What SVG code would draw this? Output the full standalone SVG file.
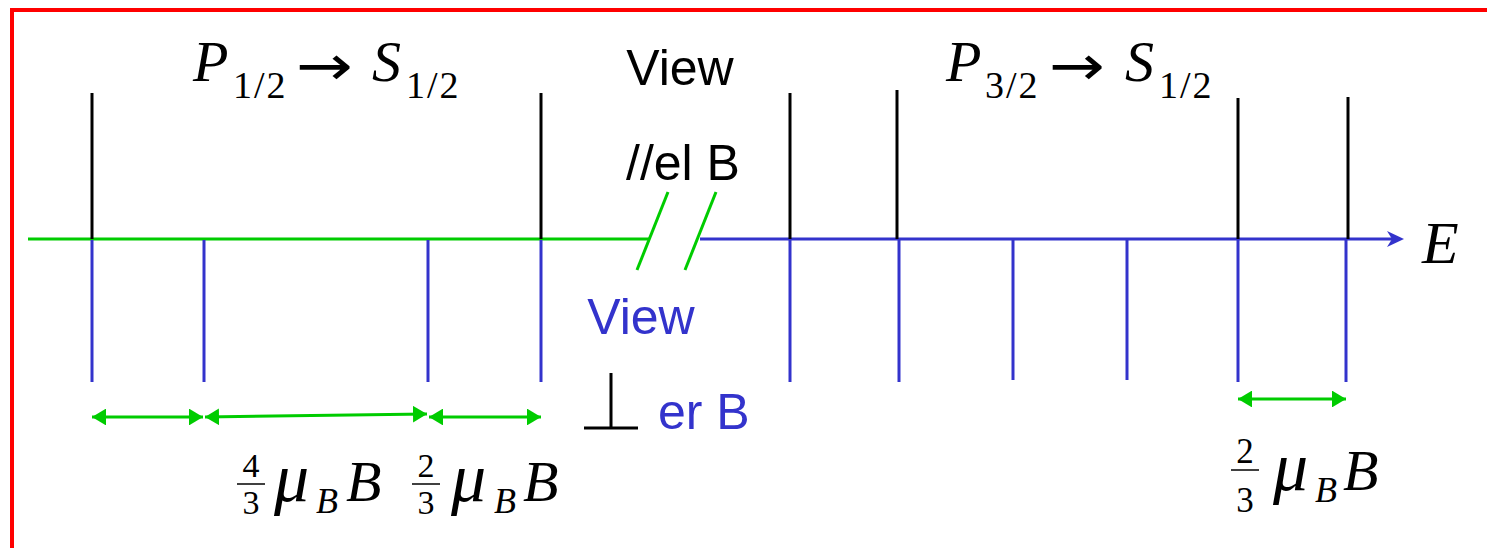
<svg xmlns="http://www.w3.org/2000/svg" width="1487" height="548" viewBox="0 0 1487 548">
<defs>
<style>
.bk{stroke:#000;stroke-width:3;fill:none}
.bl{stroke:#3333CC;stroke-width:3;fill:none}
.gr{stroke:#00CC00;stroke-width:3;fill:none}
.ti{font-family:"Liberation Serif",serif;font-style:italic;fill:#000}
.tr{font-family:"Liberation Serif",serif;fill:#000}
.ar{font-family:"DejaVu Sans",sans-serif;fill:#000}
.sa{font-family:"Liberation Sans",Arial,sans-serif;font-size:50px}
.fb{stroke:#000;stroke-width:1.5}
</style>
<marker id="ga" viewBox="0 0 10 12" refX="10" refY="6" markerWidth="4.8" markerHeight="5.6" orient="auto-start-reverse" markerUnits="strokeWidth">
<path d="M0,0 L10,6 L0,12 Z" fill="#00CC00"/>
</marker>
</defs>
<rect width="1487" height="548" fill="#fff"/>
<g id="frame">
<path d="M12,548 V10 H1487" stroke="#FF0000" stroke-width="4" fill="none"/>
</g>
<g id="connectors">
<line class="gr" x1="28" y1="239" x2="649" y2="239" stroke-width="3.5"/>
<line class="bl" x1="700" y1="239" x2="1395" y2="239" stroke-width="3.5"/>
<path d="M1404,239 L1387,231 L1392,239 L1387,247 Z" fill="#3333CC"/>
<line class="gr" x1="637" y1="270" x2="668" y2="192"/>
<line class="gr" x1="685" y1="270" x2="716" y2="192"/>
<g id="black-lines">
<line class="bk" x1="92" y1="93" x2="92" y2="239"/>
<line class="bk" x1="541" y1="93" x2="541" y2="239"/>
<line class="bk" x1="790" y1="93" x2="790" y2="239"/>
<line class="bk" x1="897" y1="90" x2="897" y2="239"/>
<line class="bk" x1="1238" y1="98" x2="1238" y2="239"/>
<line class="bk" x1="1348" y1="97" x2="1348" y2="239"/>
</g>
<g id="blue-lines">
<line class="bl" x1="92" y1="240" x2="92" y2="382"/>
<line class="bl" x1="204" y1="240" x2="204" y2="382"/>
<line class="bl" x1="428" y1="240" x2="428" y2="382"/>
<line class="bl" x1="541" y1="240" x2="541" y2="382"/>
<line class="bl" x1="790" y1="240" x2="790" y2="382"/>
<line class="bl" x1="899" y1="240" x2="899" y2="382"/>
<line class="bl" x1="1013" y1="240" x2="1013" y2="380"/>
<line class="bl" x1="1127" y1="240" x2="1127" y2="380"/>
<line class="bl" x1="1238" y1="240" x2="1238" y2="382"/>
<line class="bl" x1="1346" y1="240" x2="1346" y2="382"/>
</g>
<g id="spacing-arrows">
<line class="gr" x1="92" y1="417" x2="203" y2="417" marker-start="url(#ga)" marker-end="url(#ga)"/>
<line class="gr" x1="205" y1="417" x2="427" y2="414" marker-start="url(#ga)" marker-end="url(#ga)"/>
<line class="gr" x1="429" y1="417" x2="541" y2="417" marker-start="url(#ga)" marker-end="url(#ga)"/>
<line class="gr" x1="1238" y1="399" x2="1346" y2="399" marker-start="url(#ga)" marker-end="url(#ga)"/>
</g>
</g>
<g id="title-left">
<text class="ti" x="193" y="81" font-size="58">P</text>
<text class="tr" x="233" y="98" font-size="38" letter-spacing="2">1/2</text>
<text class="ar" x="296" y="85" font-size="56" textLength="57" lengthAdjust="spacingAndGlyphs">→</text>
<text class="ti" x="372" y="81" font-size="58">S</text>
<text class="tr" x="406" y="98" font-size="38" letter-spacing="2">1/2</text>
</g>
<g id="title-right">
<text class="ti" x="946" y="81" font-size="58">P</text>
<text class="tr" x="985" y="98" font-size="38" letter-spacing="2">3/2</text>
<text class="ar" x="1049" y="85" font-size="56" textLength="56" lengthAdjust="spacingAndGlyphs">→</text>
<text class="ti" x="1125" y="81" font-size="58">S</text>
<text class="tr" x="1159" y="98" font-size="38" letter-spacing="2">1/2</text>
</g>
<g id="view-parallel">
<text class="sa" x="680" y="85" text-anchor="middle" fill="#000">View</text>
<text class="sa" x="683" y="180" text-anchor="middle" fill="#000">//el B</text>
</g>
<g id="view-perp">
<text class="sa" x="641" y="334" text-anchor="middle" fill="#3333CC">View</text>
<path class="bk" d="M611,373 V428 M584,428 H638"/>
<text class="sa" x="658" y="429" fill="#3333CC">er B</text>
</g>
<g id="energy-label">
<text class="ti" x="1422" y="263" font-size="60">E</text>
</g>
<g id="label-43">
<text class="tr" x="251" y="477" font-size="34" text-anchor="middle">4</text>
<line class="fb" x1="237" y1="484" x2="265" y2="484"/>
<text class="tr" x="251" y="514" font-size="34" text-anchor="middle">3</text>
<text class="ti" x="274" y="501" font-size="70">μ</text>
<text class="ti" x="316" y="513" font-size="36">B</text>
<text class="ti" x="346" y="501" font-size="58">B</text>
</g>
<g id="label-23-left">
<text class="tr" x="426" y="477" font-size="34" text-anchor="middle">2</text>
<line class="fb" x1="412" y1="484" x2="440" y2="484"/>
<text class="tr" x="426" y="514" font-size="34" text-anchor="middle">3</text>
<text class="ti" x="451" y="501" font-size="70">μ</text>
<text class="ti" x="494" y="513" font-size="36">B</text>
<text class="ti" x="523" y="501" font-size="58">B</text>
</g>
<g id="label-23-right">
<text class="tr" x="1245" y="463" font-size="35" text-anchor="middle">2</text>
<line class="fb" x1="1231" y1="470" x2="1259" y2="470"/>
<text class="tr" x="1245" y="512" font-size="35" text-anchor="middle">3</text>
<text class="ti" x="1273" y="490" font-size="70">μ</text>
<text class="ti" x="1315" y="502" font-size="36">B</text>
<text class="ti" x="1343" y="490" font-size="58">B</text>
</g>
</svg>
